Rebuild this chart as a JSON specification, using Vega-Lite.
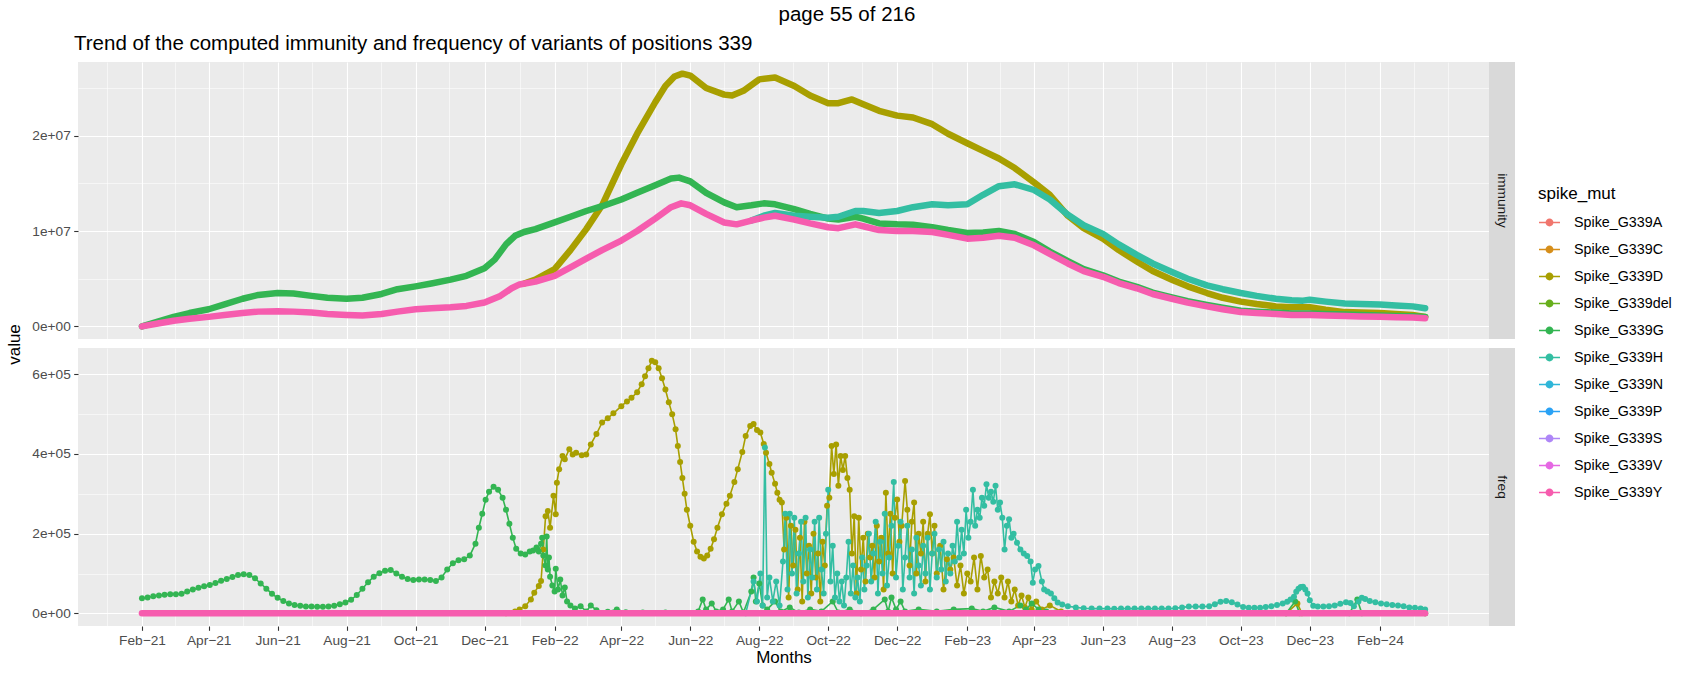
{
"$schema":"https://vega.github.io/schema/vega-lite/v6.json",
"padding":5,
"title":{"text":"page 55 of 216","anchor":"middle","fontSize":20.5,"fontWeight":"normal","color":"#000000","offset":8,"dx":8},
"datasets":{
"imm":[
{"s":"D","d":"2022-01-05","v":4.5e6},{"s":"D","d":"2022-01-15","v":4.9e6},{"s":"D","d":"2022-02-01","v":6.0e6},{"s":"D","d":"2022-02-15","v":8.0e6},{"s":"D","d":"2022-03-01","v":1.02e7},{"s":"D","d":"2022-03-15","v":1.27e7},{"s":"D","d":"2022-04-01","v":1.70e7},{"s":"D","d":"2022-04-15","v":2.02e7},{"s":"D","d":"2022-05-01","v":2.35e7},{"s":"D","d":"2022-05-10","v":2.52e7},{"s":"D","d":"2022-05-18","v":2.62e7},{"s":"D","d":"2022-05-25","v":2.65e7},{"s":"D","d":"2022-06-01","v":2.63e7},{"s":"D","d":"2022-06-15","v":2.50e7},{"s":"D","d":"2022-07-01","v":2.43e7},{"s":"D","d":"2022-07-08","v":2.42e7},{"s":"D","d":"2022-07-18","v":2.47e7},{"s":"D","d":"2022-08-01","v":2.59e7},{"s":"D","d":"2022-08-15","v":2.61e7},{"s":"D","d":"2022-09-01","v":2.52e7},{"s":"D","d":"2022-09-15","v":2.42e7},{"s":"D","d":"2022-10-01","v":2.34e7},{"s":"D","d":"2022-10-10","v":2.34e7},{"s":"D","d":"2022-10-22","v":2.38e7},{"s":"D","d":"2022-11-01","v":2.33e7},{"s":"D","d":"2022-11-15","v":2.26e7},{"s":"D","d":"2022-12-01","v":2.21e7},{"s":"D","d":"2022-12-15","v":2.19e7},{"s":"D","d":"2023-01-01","v":2.12e7},{"s":"D","d":"2023-01-15","v":2.02e7},{"s":"D","d":"2023-02-01","v":1.92e7},{"s":"D","d":"2023-02-15","v":1.84e7},{"s":"D","d":"2023-03-01","v":1.76e7},{"s":"D","d":"2023-03-15","v":1.66e7},{"s":"D","d":"2023-04-01","v":1.51e7},{"s":"D","d":"2023-04-15","v":1.38e7},{"s":"D","d":"2023-05-01","v":1.16e7},{"s":"D","d":"2023-05-15","v":1.03e7},{"s":"D","d":"2023-06-01","v":9.2e6},{"s":"D","d":"2023-06-15","v":8.0e6},{"s":"D","d":"2023-07-01","v":6.8e6},{"s":"D","d":"2023-07-15","v":5.8e6},{"s":"D","d":"2023-08-01","v":4.9e6},{"s":"D","d":"2023-08-15","v":4.2e6},{"s":"D","d":"2023-09-01","v":3.5e6},{"s":"D","d":"2023-09-15","v":3.0e6},{"s":"D","d":"2023-10-01","v":2.6e6},{"s":"D","d":"2023-10-15","v":2.35e6},{"s":"D","d":"2023-11-01","v":2.1e6},{"s":"D","d":"2023-11-15","v":2.0e6},{"s":"D","d":"2023-12-01","v":2.0e6},{"s":"D","d":"2023-12-15","v":1.75e6},{"s":"D","d":"2024-01-01","v":1.5e6},{"s":"D","d":"2024-01-15","v":1.45e6},{"s":"D","d":"2024-02-01","v":1.4e6},{"s":"D","d":"2024-02-15","v":1.3e6},{"s":"D","d":"2024-03-01","v":1.2e6},{"s":"D","d":"2024-03-12","v":1.0e6},
{"s":"G","d":"2021-02-01","v":0},{"s":"G","d":"2021-02-15","v":5e5},{"s":"G","d":"2021-03-01","v":1.0e6},{"s":"G","d":"2021-03-15","v":1.4e6},{"s":"G","d":"2021-04-01","v":1.8e6},{"s":"G","d":"2021-04-15","v":2.3e6},{"s":"G","d":"2021-05-01","v":2.9e6},{"s":"G","d":"2021-05-15","v":3.3e6},{"s":"G","d":"2021-06-01","v":3.5e6},{"s":"G","d":"2021-06-15","v":3.45e6},{"s":"G","d":"2021-07-01","v":3.2e6},{"s":"G","d":"2021-07-15","v":3.0e6},{"s":"G","d":"2021-08-01","v":2.9e6},{"s":"G","d":"2021-08-15","v":3.0e6},{"s":"G","d":"2021-09-01","v":3.4e6},{"s":"G","d":"2021-09-15","v":3.9e6},{"s":"G","d":"2021-10-01","v":4.2e6},{"s":"G","d":"2021-10-15","v":4.5e6},{"s":"G","d":"2021-11-01","v":4.9e6},{"s":"G","d":"2021-11-15","v":5.3e6},{"s":"G","d":"2021-12-01","v":6.1e6},{"s":"G","d":"2021-12-10","v":7.0e6},{"s":"G","d":"2021-12-20","v":8.6e6},{"s":"G","d":"2021-12-28","v":9.5e6},{"s":"G","d":"2022-01-05","v":9.9e6},{"s":"G","d":"2022-01-15","v":1.02e7},{"s":"G","d":"2022-02-01","v":1.09e7},{"s":"G","d":"2022-02-15","v":1.15e7},{"s":"G","d":"2022-03-01","v":1.21e7},{"s":"G","d":"2022-03-15","v":1.26e7},{"s":"G","d":"2022-04-01","v":1.33e7},{"s":"G","d":"2022-04-15","v":1.40e7},{"s":"G","d":"2022-05-01","v":1.48e7},{"s":"G","d":"2022-05-15","v":1.55e7},{"s":"G","d":"2022-05-22","v":1.56e7},{"s":"G","d":"2022-06-01","v":1.52e7},{"s":"G","d":"2022-06-15","v":1.40e7},{"s":"G","d":"2022-07-01","v":1.30e7},{"s":"G","d":"2022-07-12","v":1.25e7},{"s":"G","d":"2022-07-25","v":1.27e7},{"s":"G","d":"2022-08-05","v":1.29e7},{"s":"G","d":"2022-08-15","v":1.28e7},{"s":"G","d":"2022-09-01","v":1.23e7},{"s":"G","d":"2022-09-15","v":1.18e7},{"s":"G","d":"2022-10-01","v":1.13e7},{"s":"G","d":"2022-10-10","v":1.12e7},{"s":"G","d":"2022-10-25","v":1.15e7},{"s":"G","d":"2022-11-01","v":1.13e7},{"s":"G","d":"2022-11-15","v":1.08e7},{"s":"G","d":"2022-12-01","v":1.07e7},{"s":"G","d":"2022-12-15","v":1.065e7},{"s":"G","d":"2023-01-01","v":1.04e7},{"s":"G","d":"2023-01-15","v":1.01e7},{"s":"G","d":"2023-02-01","v":9.8e6},{"s":"G","d":"2023-02-15","v":9.85e6},{"s":"G","d":"2023-03-01","v":1.0e7},{"s":"G","d":"2023-03-15","v":9.7e6},{"s":"G","d":"2023-04-01","v":8.85e6},{"s":"G","d":"2023-04-15","v":7.85e6},{"s":"G","d":"2023-05-01","v":6.85e6},{"s":"G","d":"2023-05-15","v":6.0e6},{"s":"G","d":"2023-06-01","v":5.35e6},{"s":"G","d":"2023-06-15","v":4.7e6},{"s":"G","d":"2023-07-01","v":4.15e6},{"s":"G","d":"2023-07-15","v":3.55e6},{"s":"G","d":"2023-08-01","v":3.05e6},{"s":"G","d":"2023-08-15","v":2.65e6},{"s":"G","d":"2023-09-01","v":2.25e6},{"s":"G","d":"2023-09-15","v":1.95e6},{"s":"G","d":"2023-10-01","v":1.65e6},{"s":"G","d":"2023-10-15","v":1.55e6},{"s":"G","d":"2023-11-01","v":1.45e6},{"s":"G","d":"2023-11-15","v":1.35e6},{"s":"G","d":"2023-12-01","v":1.35e6},{"s":"G","d":"2023-12-15","v":1.3e6},{"s":"G","d":"2024-01-01","v":1.25e6},{"s":"G","d":"2024-01-15","v":1.2e6},{"s":"G","d":"2024-02-01","v":1.15e6},{"s":"G","d":"2024-02-15","v":1.1e6},{"s":"G","d":"2024-03-01","v":1.07e6},{"s":"G","d":"2024-03-12","v":1.0e6},
{"s":"H","d":"2022-07-25","v":1.11e7},{"s":"H","d":"2022-08-05","v":1.16e7},{"s":"H","d":"2022-08-15","v":1.19e7},{"s":"H","d":"2022-09-01","v":1.16e7},{"s":"H","d":"2022-09-15","v":1.15e7},{"s":"H","d":"2022-10-01","v":1.14e7},{"s":"H","d":"2022-10-10","v":1.15e7},{"s":"H","d":"2022-10-25","v":1.21e7},{"s":"H","d":"2022-11-01","v":1.21e7},{"s":"H","d":"2022-11-15","v":1.19e7},{"s":"H","d":"2022-12-01","v":1.21e7},{"s":"H","d":"2022-12-15","v":1.25e7},{"s":"H","d":"2023-01-01","v":1.28e7},{"s":"H","d":"2023-01-15","v":1.27e7},{"s":"H","d":"2023-02-01","v":1.28e7},{"s":"H","d":"2023-02-15","v":1.38e7},{"s":"H","d":"2023-03-01","v":1.47e7},{"s":"H","d":"2023-03-15","v":1.49e7},{"s":"H","d":"2023-04-01","v":1.43e7},{"s":"H","d":"2023-04-15","v":1.33e7},{"s":"H","d":"2023-05-01","v":1.17e7},{"s":"H","d":"2023-05-15","v":1.06e7},{"s":"H","d":"2023-06-01","v":9.7e6},{"s":"H","d":"2023-06-15","v":8.6e6},{"s":"H","d":"2023-07-01","v":7.5e6},{"s":"H","d":"2023-07-15","v":6.6e6},{"s":"H","d":"2023-08-01","v":5.7e6},{"s":"H","d":"2023-08-15","v":5.0e6},{"s":"H","d":"2023-09-01","v":4.3e6},{"s":"H","d":"2023-09-15","v":3.9e6},{"s":"H","d":"2023-10-01","v":3.5e6},{"s":"H","d":"2023-10-15","v":3.2e6},{"s":"H","d":"2023-11-01","v":2.9e6},{"s":"H","d":"2023-11-15","v":2.75e6},{"s":"H","d":"2023-11-25","v":2.7e6},{"s":"H","d":"2023-12-01","v":2.8e6},{"s":"H","d":"2023-12-15","v":2.6e6},{"s":"H","d":"2024-01-01","v":2.4e6},{"s":"H","d":"2024-01-15","v":2.35e6},{"s":"H","d":"2024-02-01","v":2.3e6},{"s":"H","d":"2024-02-15","v":2.2e6},{"s":"H","d":"2024-03-01","v":2.1e6},{"s":"H","d":"2024-03-12","v":1.9e6},
{"s":"Y","d":"2021-02-01","v":0},{"s":"Y","d":"2021-02-15","v":3e5},{"s":"Y","d":"2021-03-01","v":6e5},{"s":"Y","d":"2021-03-15","v":8e5},{"s":"Y","d":"2021-04-01","v":1.0e6},{"s":"Y","d":"2021-04-15","v":1.2e6},{"s":"Y","d":"2021-05-01","v":1.4e6},{"s":"Y","d":"2021-05-15","v":1.55e6},{"s":"Y","d":"2021-06-01","v":1.6e6},{"s":"Y","d":"2021-06-15","v":1.55e6},{"s":"Y","d":"2021-07-01","v":1.45e6},{"s":"Y","d":"2021-07-15","v":1.3e6},{"s":"Y","d":"2021-08-01","v":1.2e6},{"s":"Y","d":"2021-08-15","v":1.15e6},{"s":"Y","d":"2021-09-01","v":1.3e6},{"s":"Y","d":"2021-09-15","v":1.55e6},{"s":"Y","d":"2021-10-01","v":1.8e6},{"s":"Y","d":"2021-10-15","v":1.9e6},{"s":"Y","d":"2021-11-01","v":2.0e6},{"s":"Y","d":"2021-11-15","v":2.15e6},{"s":"Y","d":"2021-12-01","v":2.5e6},{"s":"Y","d":"2021-12-15","v":3.2e6},{"s":"Y","d":"2021-12-25","v":4.0e6},{"s":"Y","d":"2022-01-01","v":4.4e6},{"s":"Y","d":"2022-01-15","v":4.7e6},{"s":"Y","d":"2022-02-01","v":5.3e6},{"s":"Y","d":"2022-02-15","v":6.2e6},{"s":"Y","d":"2022-03-01","v":7.1e6},{"s":"Y","d":"2022-03-15","v":8.0e6},{"s":"Y","d":"2022-04-01","v":9.0e6},{"s":"Y","d":"2022-04-15","v":1.0e7},{"s":"Y","d":"2022-05-01","v":1.13e7},{"s":"Y","d":"2022-05-15","v":1.25e7},{"s":"Y","d":"2022-05-24","v":1.29e7},{"s":"Y","d":"2022-06-01","v":1.27e7},{"s":"Y","d":"2022-06-15","v":1.18e7},{"s":"Y","d":"2022-07-01","v":1.09e7},{"s":"Y","d":"2022-07-12","v":1.07e7},{"s":"Y","d":"2022-07-25","v":1.11e7},{"s":"Y","d":"2022-08-05","v":1.14e7},{"s":"Y","d":"2022-08-15","v":1.16e7},{"s":"Y","d":"2022-09-01","v":1.12e7},{"s":"Y","d":"2022-09-15","v":1.08e7},{"s":"Y","d":"2022-10-01","v":1.04e7},{"s":"Y","d":"2022-10-10","v":1.03e7},{"s":"Y","d":"2022-10-25","v":1.07e7},{"s":"Y","d":"2022-11-01","v":1.05e7},{"s":"Y","d":"2022-11-15","v":1.01e7},{"s":"Y","d":"2022-12-01","v":1.0e7},{"s":"Y","d":"2022-12-15","v":1.0e7},{"s":"Y","d":"2023-01-01","v":9.9e6},{"s":"Y","d":"2023-01-15","v":9.6e6},{"s":"Y","d":"2023-02-01","v":9.2e6},{"s":"Y","d":"2023-02-15","v":9.3e6},{"s":"Y","d":"2023-03-01","v":9.5e6},{"s":"Y","d":"2023-03-15","v":9.3e6},{"s":"Y","d":"2023-04-01","v":8.5e6},{"s":"Y","d":"2023-04-15","v":7.6e6},{"s":"Y","d":"2023-05-01","v":6.6e6},{"s":"Y","d":"2023-05-15","v":5.8e6},{"s":"Y","d":"2023-06-01","v":5.2e6},{"s":"Y","d":"2023-06-15","v":4.55e6},{"s":"Y","d":"2023-07-01","v":4.0e6},{"s":"Y","d":"2023-07-15","v":3.4e6},{"s":"Y","d":"2023-08-01","v":2.9e6},{"s":"Y","d":"2023-08-15","v":2.5e6},{"s":"Y","d":"2023-09-01","v":2.1e6},{"s":"Y","d":"2023-09-15","v":1.8e6},{"s":"Y","d":"2023-10-01","v":1.5e6},{"s":"Y","d":"2023-10-15","v":1.4e6},{"s":"Y","d":"2023-11-01","v":1.3e6},{"s":"Y","d":"2023-11-15","v":1.2e6},{"s":"Y","d":"2023-12-01","v":1.2e6},{"s":"Y","d":"2023-12-15","v":1.15e6},{"s":"Y","d":"2024-01-01","v":1.1e6},{"s":"Y","d":"2024-01-15","v":1.05e6},{"s":"Y","d":"2024-02-01","v":1.0e6},{"s":"Y","d":"2024-02-15","v":9.7e5},{"s":"Y","d":"2024-03-01","v":9.4e5},{"s":"Y","d":"2024-03-12","v":8.5e5}
],
"freq":[
{"s":"D","d":"2021-12-20","v":0},{"s":"D","d":"2021-12-28","v":5e3},{"s":"D","d":"2022-01-01","v":1e4},{"s":"D","d":"2022-01-06","v":1.8e4},{"s":"D","d":"2022-01-11","v":3.5e4},{"s":"D","d":"2022-01-14","v":5.2e4},{"s":"D","d":"2022-01-18","v":6.9e4},{"s":"D","d":"2022-01-20","v":8.1e4},{"s":"D","d":"2022-01-22","v":1.6e5},{"s":"D","d":"2022-01-24","v":2.44e5},{"s":"D","d":"2022-01-26","v":2.57e5},{"s":"D","d":"2022-01-28","v":2.15e5},{"s":"D","d":"2022-01-31","v":2.95e5},{"s":"D","d":"2022-02-02","v":2.49e5},{"s":"D","d":"2022-02-03","v":3.28e5},{"s":"D","d":"2022-02-05","v":3.62e5},{"s":"D","d":"2022-02-08","v":3.95e5},{"s":"D","d":"2022-02-10","v":3.87e5},{"s":"D","d":"2022-02-14","v":4.12e5},{"s":"D","d":"2022-02-17","v":3.99e5},{"s":"D","d":"2022-02-20","v":4.03e5},{"s":"D","d":"2022-02-25","v":3.97e5},{"s":"D","d":"2022-03-01","v":3.99e5},{"s":"D","d":"2022-03-05","v":4.24e5},{"s":"D","d":"2022-03-10","v":4.5e5},{"s":"D","d":"2022-03-15","v":4.79e5},{"s":"D","d":"2022-03-20","v":4.9e5},{"s":"D","d":"2022-03-25","v":5.02e5},{"s":"D","d":"2022-04-01","v":5.2e5},{"s":"D","d":"2022-04-06","v":5.32e5},{"s":"D","d":"2022-04-10","v":5.41e5},{"s":"D","d":"2022-04-15","v":5.55e5},{"s":"D","d":"2022-04-19","v":5.75e5},{"s":"D","d":"2022-04-22","v":5.95e5},{"s":"D","d":"2022-04-25","v":6.15e5},{"s":"D","d":"2022-04-28","v":6.34e5},{"s":"D","d":"2022-05-01","v":6.3e5},{"s":"D","d":"2022-05-04","v":6.15e5},{"s":"D","d":"2022-05-07","v":5.9e5},{"s":"D","d":"2022-05-10","v":5.62e5},{"s":"D","d":"2022-05-13","v":5.3e5},{"s":"D","d":"2022-05-16","v":5.0e5},{"s":"D","d":"2022-05-19","v":4.62e5},{"s":"D","d":"2022-05-21","v":4.2e5},{"s":"D","d":"2022-05-23","v":3.8e5},{"s":"D","d":"2022-05-25","v":3.4e5},{"s":"D","d":"2022-05-27","v":3.0e5},{"s":"D","d":"2022-05-29","v":2.6e5},{"s":"D","d":"2022-06-01","v":2.2e5},{"s":"D","d":"2022-06-04","v":1.8e5},{"s":"D","d":"2022-06-07","v":1.55e5},{"s":"D","d":"2022-06-10","v":1.42e5},{"s":"D","d":"2022-06-13","v":1.38e5},{"s":"D","d":"2022-06-16","v":1.45e5},{"s":"D","d":"2022-06-19","v":1.62e5},{"s":"D","d":"2022-06-22","v":1.86e5},{"s":"D","d":"2022-06-25","v":2.15e5},{"s":"D","d":"2022-06-29","v":2.49e5},{"s":"D","d":"2022-07-03","v":2.75e5},{"s":"D","d":"2022-07-06","v":2.95e5},{"s":"D","d":"2022-07-10","v":3.3e5},{"s":"D","d":"2022-07-13","v":3.62e5},{"s":"D","d":"2022-07-17","v":4.05e5},{"s":"D","d":"2022-07-20","v":4.45e5},{"s":"D","d":"2022-07-24","v":4.7e5},{"s":"D","d":"2022-07-27","v":4.75e5},{"s":"D","d":"2022-07-30","v":4.6e5},{"s":"D","d":"2022-08-02","v":4.54e5},{"s":"D","d":"2022-08-05","v":4.25e5},{"s":"D","d":"2022-08-07","v":4.03e5},{"s":"D","d":"2022-08-10","v":3.75e5},{"s":"D","d":"2022-08-12","v":3.53e5},{"s":"D","d":"2022-08-15","v":3.25e5},{"s":"D","d":"2022-08-17","v":3.03e5},{"s":"D","d":"2022-08-19","v":2.85e5},{"s":"D","d":"2022-08-21","v":2.78e5},{"s":"D","d":"2022-08-23","v":1.6e5},{"s":"D","d":"2022-08-25","v":2.4e5},{"s":"D","d":"2022-08-27","v":4e4},{"s":"D","d":"2022-08-29","v":2.2e5},{"s":"D","d":"2022-08-31","v":1.2e5},{"s":"D","d":"2022-09-02","v":2.1e5},{"s":"D","d":"2022-09-04","v":6e4},{"s":"D","d":"2022-09-06","v":1.9e5},{"s":"D","d":"2022-09-08","v":3e4},{"s":"D","d":"2022-09-10","v":2.3e5},{"s":"D","d":"2022-09-12","v":1e5},{"s":"D","d":"2022-09-14","v":1.7e5},{"s":"D","d":"2022-09-16","v":5e4},{"s":"D","d":"2022-09-18","v":2e5},{"s":"D","d":"2022-09-20","v":9e4},{"s":"D","d":"2022-09-22","v":1.5e5},{"s":"D","d":"2022-09-24","v":3e4},{"s":"D","d":"2022-09-26","v":1.8e5},{"s":"D","d":"2022-09-28","v":1.2e5},{"s":"D","d":"2022-09-30","v":2.7e5},{"s":"D","d":"2022-10-02","v":2.9e5},{"s":"D","d":"2022-10-04","v":4.2e5},{"s":"D","d":"2022-10-06","v":3.5e5},{"s":"D","d":"2022-10-08","v":4.24e5},{"s":"D","d":"2022-10-10","v":3.2e5},{"s":"D","d":"2022-10-12","v":3.95e5},{"s":"D","d":"2022-10-14","v":3.6e5},{"s":"D","d":"2022-10-16","v":3.95e5},{"s":"D","d":"2022-10-18","v":3.4e5},{"s":"D","d":"2022-10-20","v":3.1e5},{"s":"D","d":"2022-10-22","v":1.5e5},{"s":"D","d":"2022-10-24","v":2.44e5},{"s":"D","d":"2022-10-26","v":5e4},{"s":"D","d":"2022-10-28","v":2.4e5},{"s":"D","d":"2022-10-30","v":1.1e5},{"s":"D","d":"2022-11-01","v":1.9e5},{"s":"D","d":"2022-11-03","v":8e4},{"s":"D","d":"2022-11-05","v":2e5},{"s":"D","d":"2022-11-07","v":1.4e5},{"s":"D","d":"2022-11-09","v":1.7e5},{"s":"D","d":"2022-11-11","v":9e4},{"s":"D","d":"2022-11-13","v":2.2e5},{"s":"D","d":"2022-11-15","v":1.3e5},{"s":"D","d":"2022-11-17","v":1.9e5},{"s":"D","d":"2022-11-19","v":6e4},{"s":"D","d":"2022-11-21","v":3.03e5},{"s":"D","d":"2022-11-23","v":1.5e5},{"s":"D","d":"2022-11-25","v":2.5e5},{"s":"D","d":"2022-11-27","v":1e5},{"s":"D","d":"2022-11-29","v":2.4e5},{"s":"D","d":"2022-12-01","v":2.86e5},{"s":"D","d":"2022-12-03","v":1.8e5},{"s":"D","d":"2022-12-05","v":2.2e5},{"s":"D","d":"2022-12-08","v":3.32e5},{"s":"D","d":"2022-12-10","v":2.6e5},{"s":"D","d":"2022-12-12","v":1.2e5},{"s":"D","d":"2022-12-14","v":2.3e5},{"s":"D","d":"2022-12-16","v":2.78e5},{"s":"D","d":"2022-12-18","v":1e5},{"s":"D","d":"2022-12-20","v":2e5},{"s":"D","d":"2022-12-22","v":1.5e5},{"s":"D","d":"2022-12-24","v":2.3e5},{"s":"D","d":"2022-12-26","v":8e4},{"s":"D","d":"2022-12-28","v":2e5},{"s":"D","d":"2022-12-30","v":2.49e5},{"s":"D","d":"2023-01-01","v":1.5e5},{"s":"D","d":"2023-01-03","v":2.2e5},{"s":"D","d":"2023-01-05","v":1e5},{"s":"D","d":"2023-01-08","v":1.7e5},{"s":"D","d":"2023-01-11","v":6e4},{"s":"D","d":"2023-01-14","v":1.36e5},{"s":"D","d":"2023-01-17","v":1.1e5},{"s":"D","d":"2023-01-20","v":1.4e5},{"s":"D","d":"2023-01-23","v":7e4},{"s":"D","d":"2023-01-26","v":1.2e5},{"s":"D","d":"2023-01-29","v":5e4},{"s":"D","d":"2023-02-01","v":1e5},{"s":"D","d":"2023-02-04","v":8e4},{"s":"D","d":"2023-02-07","v":1.4e5},{"s":"D","d":"2023-02-10","v":6e4},{"s":"D","d":"2023-02-13","v":1.44e5},{"s":"D","d":"2023-02-16","v":9e4},{"s":"D","d":"2023-02-19","v":1.1e5},{"s":"D","d":"2023-02-22","v":4e4},{"s":"D","d":"2023-02-25","v":8e4},{"s":"D","d":"2023-02-28","v":5e4},{"s":"D","d":"2023-03-03","v":9e4},{"s":"D","d":"2023-03-06","v":4e4},{"s":"D","d":"2023-03-09","v":8e4},{"s":"D","d":"2023-03-12","v":3e4},{"s":"D","d":"2023-03-15","v":6e4},{"s":"D","d":"2023-03-18","v":2e4},{"s":"D","d":"2023-03-21","v":4.5e4},{"s":"D","d":"2023-03-24","v":1.5e4},{"s":"D","d":"2023-03-27","v":4e4},{"s":"D","d":"2023-03-30","v":1e4},{"s":"D","d":"2023-04-03","v":3e4},{"s":"D","d":"2023-04-08","v":1e4},{"s":"D","d":"2023-04-15","v":2e4},{"s":"D","d":"2023-04-25","v":5e3},{"s":"D","d":"2023-05-10","v":2e3},{"s":"D","d":"2023-05-30","v":0},{"s":"D","d":"2023-11-10","v":0},{"s":"D","d":"2023-11-20","v":2.5e4},{"s":"D","d":"2023-11-24","v":0},{"s":"D","d":"2024-03-12","v":0},
{"s":"G","d":"2021-02-01","v":3.8e4},{"s":"G","d":"2021-02-06","v":4.0e4},{"s":"G","d":"2021-02-11","v":4.3e4},{"s":"G","d":"2021-02-16","v":4.5e4},{"s":"G","d":"2021-02-21","v":4.7e4},{"s":"G","d":"2021-02-26","v":4.8e4},{"s":"G","d":"2021-03-03","v":4.8e4},{"s":"G","d":"2021-03-08","v":4.9e4},{"s":"G","d":"2021-03-13","v":5.5e4},{"s":"G","d":"2021-03-18","v":6.0e4},{"s":"G","d":"2021-03-23","v":6.4e4},{"s":"G","d":"2021-03-28","v":6.8e4},{"s":"G","d":"2021-04-02","v":7.1e4},{"s":"G","d":"2021-04-07","v":7.6e4},{"s":"G","d":"2021-04-12","v":8.2e4},{"s":"G","d":"2021-04-17","v":8.6e4},{"s":"G","d":"2021-04-22","v":9.1e4},{"s":"G","d":"2021-04-27","v":9.6e4},{"s":"G","d":"2021-05-02","v":9.8e4},{"s":"G","d":"2021-05-07","v":9.6e4},{"s":"G","d":"2021-05-12","v":8.8e4},{"s":"G","d":"2021-05-17","v":7.5e4},{"s":"G","d":"2021-05-22","v":6.2e4},{"s":"G","d":"2021-05-27","v":4.9e4},{"s":"G","d":"2021-06-01","v":3.9e4},{"s":"G","d":"2021-06-06","v":3.1e4},{"s":"G","d":"2021-06-11","v":2.5e4},{"s":"G","d":"2021-06-16","v":2.1e4},{"s":"G","d":"2021-06-21","v":1.9e4},{"s":"G","d":"2021-06-26","v":1.7e4},{"s":"G","d":"2021-07-01","v":1.7e4},{"s":"G","d":"2021-07-06","v":1.65e4},{"s":"G","d":"2021-07-11","v":1.65e4},{"s":"G","d":"2021-07-16","v":1.7e4},{"s":"G","d":"2021-07-21","v":1.9e4},{"s":"G","d":"2021-07-26","v":2.3e4},{"s":"G","d":"2021-07-31","v":2.7e4},{"s":"G","d":"2021-08-05","v":3.4e4},{"s":"G","d":"2021-08-10","v":4.6e4},{"s":"G","d":"2021-08-15","v":6.2e4},{"s":"G","d":"2021-08-20","v":7.8e4},{"s":"G","d":"2021-08-25","v":9.2e4},{"s":"G","d":"2021-08-30","v":1.01e5},{"s":"G","d":"2021-09-04","v":1.07e5},{"s":"G","d":"2021-09-09","v":1.09e5},{"s":"G","d":"2021-09-14","v":1.0e5},{"s":"G","d":"2021-09-19","v":9.2e4},{"s":"G","d":"2021-09-24","v":8.6e4},{"s":"G","d":"2021-09-29","v":8.4e4},{"s":"G","d":"2021-10-04","v":8.5e4},{"s":"G","d":"2021-10-09","v":8.5e4},{"s":"G","d":"2021-10-14","v":8.4e4},{"s":"G","d":"2021-10-19","v":8.1e4},{"s":"G","d":"2021-10-24","v":9.0e4},{"s":"G","d":"2021-10-29","v":1.1e5},{"s":"G","d":"2021-11-03","v":1.26e5},{"s":"G","d":"2021-11-08","v":1.33e5},{"s":"G","d":"2021-11-13","v":1.36e5},{"s":"G","d":"2021-11-18","v":1.45e5},{"s":"G","d":"2021-11-23","v":1.75e5},{"s":"G","d":"2021-11-26","v":2.15e5},{"s":"G","d":"2021-11-29","v":2.5e5},{"s":"G","d":"2021-12-02","v":2.85e5},{"s":"G","d":"2021-12-05","v":3.05e5},{"s":"G","d":"2021-12-09","v":3.18e5},{"s":"G","d":"2021-12-13","v":3.1e5},{"s":"G","d":"2021-12-17","v":2.9e5},{"s":"G","d":"2021-12-20","v":2.6e5},{"s":"G","d":"2021-12-23","v":2.25e5},{"s":"G","d":"2021-12-26","v":1.9e5},{"s":"G","d":"2021-12-29","v":1.62e5},{"s":"G","d":"2022-01-02","v":1.5e5},{"s":"G","d":"2022-01-06","v":1.48e5},{"s":"G","d":"2022-01-10","v":1.55e5},{"s":"G","d":"2022-01-13","v":1.58e5},{"s":"G","d":"2022-01-16","v":1.65e5},{"s":"G","d":"2022-01-18","v":1.55e5},{"s":"G","d":"2022-01-20","v":1.75e5},{"s":"G","d":"2022-01-21","v":1.9e5},{"s":"G","d":"2022-01-22","v":1.45e5},{"s":"G","d":"2022-01-24","v":1.2e5},{"s":"G","d":"2022-01-25","v":1.93e5},{"s":"G","d":"2022-01-26","v":1.1e5},{"s":"G","d":"2022-01-27","v":1.4e5},{"s":"G","d":"2022-01-28","v":9.2e4},{"s":"G","d":"2022-01-30","v":7e4},{"s":"G","d":"2022-02-01","v":5.5e4},{"s":"G","d":"2022-02-02","v":1.12e5},{"s":"G","d":"2022-02-04","v":6e4},{"s":"G","d":"2022-02-06","v":8.5e4},{"s":"G","d":"2022-02-08","v":4.5e4},{"s":"G","d":"2022-02-10","v":6.5e4},{"s":"G","d":"2022-02-12","v":3e4},{"s":"G","d":"2022-02-15","v":2e4},{"s":"G","d":"2022-02-19","v":1.2e4},{"s":"G","d":"2022-02-24","v":1.8e4},{"s":"G","d":"2022-03-01","v":5e3},{"s":"G","d":"2022-03-05","v":2e4},{"s":"G","d":"2022-03-10","v":8e3},{"s":"G","d":"2022-03-20","v":4e3},{"s":"G","d":"2022-03-28","v":1e4},{"s":"G","d":"2022-04-05","v":3e3},{"s":"G","d":"2022-04-20","v":2e3},{"s":"G","d":"2022-05-10","v":2e3},{"s":"G","d":"2022-05-25","v":1e3},{"s":"G","d":"2022-06-08","v":5e3},{"s":"G","d":"2022-06-12","v":3.5e4},{"s":"G","d":"2022-06-15","v":1e4},{"s":"G","d":"2022-06-20","v":2.5e4},{"s":"G","d":"2022-06-24","v":5e3},{"s":"G","d":"2022-06-30","v":1e4},{"s":"G","d":"2022-07-05","v":3.5e4},{"s":"G","d":"2022-07-08","v":5e3},{"s":"G","d":"2022-07-14","v":3e4},{"s":"G","d":"2022-07-18","v":2e3},{"s":"G","d":"2022-07-25","v":5.5e4},{"s":"G","d":"2022-07-27","v":9e4},{"s":"G","d":"2022-07-29","v":3e4},{"s":"G","d":"2022-08-01","v":7.5e4},{"s":"G","d":"2022-08-04","v":2e4},{"s":"G","d":"2022-08-08","v":1e4},{"s":"G","d":"2022-08-15","v":3e4},{"s":"G","d":"2022-08-20","v":5e3},{"s":"G","d":"2022-08-28","v":1.5e4},{"s":"G","d":"2022-09-05","v":2e3},{"s":"G","d":"2022-09-15","v":1e4},{"s":"G","d":"2022-09-25","v":5e3},{"s":"G","d":"2022-10-05","v":3e4},{"s":"G","d":"2022-10-10","v":2e3},{"s":"G","d":"2022-10-20","v":1e4},{"s":"G","d":"2022-10-30","v":0},{"s":"G","d":"2022-11-10","v":1e4},{"s":"G","d":"2022-11-20","v":3.5e4},{"s":"G","d":"2022-11-23","v":5e3},{"s":"G","d":"2022-11-26","v":4e4},{"s":"G","d":"2022-11-30","v":1e4},{"s":"G","d":"2022-12-04","v":3e4},{"s":"G","d":"2022-12-08","v":5e3},{"s":"G","d":"2022-12-20","v":1e4},{"s":"G","d":"2023-01-05","v":5e3},{"s":"G","d":"2023-01-20","v":1e4},{"s":"G","d":"2023-02-05","v":1.2e4},{"s":"G","d":"2023-02-15","v":5e3},{"s":"G","d":"2023-02-25","v":1.5e4},{"s":"G","d":"2023-03-10","v":5e3},{"s":"G","d":"2023-03-20","v":2e4},{"s":"G","d":"2023-03-25","v":1e4},{"s":"G","d":"2023-03-30","v":2.5e4},{"s":"G","d":"2023-04-05","v":1e4},{"s":"G","d":"2023-04-12","v":5e3},{"s":"G","d":"2023-04-20","v":2e3},{"s":"G","d":"2023-04-30","v":0},{"s":"G","d":"2023-11-10","v":0},{"s":"G","d":"2023-11-18","v":3e4},{"s":"G","d":"2023-11-22","v":0},{"s":"G","d":"2024-01-05","v":0},{"s":"G","d":"2024-01-12","v":3.5e4},{"s":"G","d":"2024-01-16","v":0},{"s":"G","d":"2024-03-12","v":0},
{"s":"H","d":"2022-07-20","v":0},{"s":"H","d":"2022-07-27","v":8e4},{"s":"H","d":"2022-07-30","v":3e4},{"s":"H","d":"2022-08-02","v":1e5},{"s":"H","d":"2022-08-04","v":2e4},{"s":"H","d":"2022-08-06","v":4.16e5},{"s":"H","d":"2022-08-08","v":4e4},{"s":"H","d":"2022-08-10","v":9e4},{"s":"H","d":"2022-08-13","v":3e4},{"s":"H","d":"2022-08-16","v":8e4},{"s":"H","d":"2022-08-19","v":2e4},{"s":"H","d":"2022-08-22","v":1.3e5},{"s":"H","d":"2022-08-24","v":2.5e5},{"s":"H","d":"2022-08-26","v":6e4},{"s":"H","d":"2022-08-28","v":2.5e5},{"s":"H","d":"2022-08-30","v":1e5},{"s":"H","d":"2022-09-01","v":2.4e5},{"s":"H","d":"2022-09-03","v":5e4},{"s":"H","d":"2022-09-05","v":1.5e5},{"s":"H","d":"2022-09-07","v":2.3e5},{"s":"H","d":"2022-09-09","v":8e4},{"s":"H","d":"2022-09-11","v":2.4e5},{"s":"H","d":"2022-09-13","v":4e4},{"s":"H","d":"2022-09-15","v":1.6e5},{"s":"H","d":"2022-09-17","v":9e4},{"s":"H","d":"2022-09-19","v":2.3e5},{"s":"H","d":"2022-09-21","v":6e4},{"s":"H","d":"2022-09-23","v":2.4e5},{"s":"H","d":"2022-09-25","v":1.1e5},{"s":"H","d":"2022-09-27","v":5e4},{"s":"H","d":"2022-09-29","v":2e5},{"s":"H","d":"2022-10-01","v":3.1e5},{"s":"H","d":"2022-10-03","v":8e4},{"s":"H","d":"2022-10-05","v":1.7e5},{"s":"H","d":"2022-10-07","v":4e4},{"s":"H","d":"2022-10-09","v":1e5},{"s":"H","d":"2022-10-11","v":3e4},{"s":"H","d":"2022-10-13","v":8e4},{"s":"H","d":"2022-10-15","v":2e4},{"s":"H","d":"2022-10-17","v":9e4},{"s":"H","d":"2022-10-19","v":1.8e5},{"s":"H","d":"2022-10-21","v":5e4},{"s":"H","d":"2022-10-23","v":1.2e5},{"s":"H","d":"2022-10-25","v":4e4},{"s":"H","d":"2022-10-27","v":9e4},{"s":"H","d":"2022-10-29","v":3e4},{"s":"H","d":"2022-10-31","v":1.4e5},{"s":"H","d":"2022-11-02","v":6e4},{"s":"H","d":"2022-11-04","v":1.2e5},{"s":"H","d":"2022-11-06","v":2e5},{"s":"H","d":"2022-11-08","v":8e4},{"s":"H","d":"2022-11-10","v":1.5e5},{"s":"H","d":"2022-11-12","v":2.3e5},{"s":"H","d":"2022-11-14","v":5e4},{"s":"H","d":"2022-11-16","v":1.8e5},{"s":"H","d":"2022-11-18","v":1e5},{"s":"H","d":"2022-11-20","v":2.5e5},{"s":"H","d":"2022-11-22","v":7e4},{"s":"H","d":"2022-11-24","v":1.4e5},{"s":"H","d":"2022-11-26","v":2.2e5},{"s":"H","d":"2022-11-28","v":3.3e5},{"s":"H","d":"2022-11-30","v":9e4},{"s":"H","d":"2022-12-02","v":1.7e5},{"s":"H","d":"2022-12-04","v":2.3e5},{"s":"H","d":"2022-12-06","v":6e4},{"s":"H","d":"2022-12-08","v":1.4e5},{"s":"H","d":"2022-12-10","v":2.2e5},{"s":"H","d":"2022-12-12","v":9e4},{"s":"H","d":"2022-12-14","v":1.6e5},{"s":"H","d":"2022-12-16","v":5e4},{"s":"H","d":"2022-12-18","v":1.9e5},{"s":"H","d":"2022-12-20","v":1.2e5},{"s":"H","d":"2022-12-22","v":7e4},{"s":"H","d":"2022-12-24","v":1.7e5},{"s":"H","d":"2022-12-26","v":1e5},{"s":"H","d":"2022-12-28","v":1.9e5},{"s":"H","d":"2022-12-30","v":6e4},{"s":"H","d":"2023-01-01","v":1.5e5},{"s":"H","d":"2023-01-03","v":2e5},{"s":"H","d":"2023-01-05","v":9e4},{"s":"H","d":"2023-01-07","v":1.6e5},{"s":"H","d":"2023-01-09","v":1.1e5},{"s":"H","d":"2023-01-11","v":1.8e5},{"s":"H","d":"2023-01-13","v":8e4},{"s":"H","d":"2023-01-15","v":1.5e5},{"s":"H","d":"2023-01-17","v":1e5},{"s":"H","d":"2023-01-19","v":1.7e5},{"s":"H","d":"2023-01-21","v":1.3e5},{"s":"H","d":"2023-01-23","v":2.3e5},{"s":"H","d":"2023-01-25","v":1.4e5},{"s":"H","d":"2023-01-27","v":2.1e5},{"s":"H","d":"2023-01-29","v":1.5e5},{"s":"H","d":"2023-01-31","v":2.6e5},{"s":"H","d":"2023-02-02","v":1.9e5},{"s":"H","d":"2023-02-04","v":2.3e5},{"s":"H","d":"2023-02-06","v":3.1e5},{"s":"H","d":"2023-02-08","v":2.2e5},{"s":"H","d":"2023-02-10","v":2.6e5},{"s":"H","d":"2023-02-12","v":2.4e5},{"s":"H","d":"2023-02-14","v":2.9e5},{"s":"H","d":"2023-02-16","v":2.7e5},{"s":"H","d":"2023-02-18","v":3.24e5},{"s":"H","d":"2023-02-20","v":2.9e5},{"s":"H","d":"2023-02-22","v":3.05e5},{"s":"H","d":"2023-02-24","v":2.8e5},{"s":"H","d":"2023-02-26","v":3.2e5},{"s":"H","d":"2023-02-28","v":2.6e5},{"s":"H","d":"2023-03-02","v":2.78e5},{"s":"H","d":"2023-03-04","v":2.4e5},{"s":"H","d":"2023-03-06","v":1.6e5},{"s":"H","d":"2023-03-08","v":2.2e5},{"s":"H","d":"2023-03-10","v":2.36e5},{"s":"H","d":"2023-03-12","v":1.9e5},{"s":"H","d":"2023-03-14","v":2.0e5},{"s":"H","d":"2023-03-17","v":1.77e5},{"s":"H","d":"2023-03-20","v":1.6e5},{"s":"H","d":"2023-03-23","v":1.5e5},{"s":"H","d":"2023-03-26","v":1.44e5},{"s":"H","d":"2023-03-29","v":1.3e5},{"s":"H","d":"2023-03-31","v":7.7e4},{"s":"H","d":"2023-04-02","v":1.1e5},{"s":"H","d":"2023-04-05","v":1.19e5},{"s":"H","d":"2023-04-08","v":8e4},{"s":"H","d":"2023-04-10","v":6e4},{"s":"H","d":"2023-04-13","v":5.5e4},{"s":"H","d":"2023-04-16","v":5e4},{"s":"H","d":"2023-04-19","v":3.8e4},{"s":"H","d":"2023-04-22","v":2.7e4},{"s":"H","d":"2023-04-26","v":2.2e4},{"s":"H","d":"2023-05-01","v":1.8e4},{"s":"H","d":"2023-05-08","v":1.5e4},{"s":"H","d":"2023-05-15","v":1.3e4},{"s":"H","d":"2023-05-22","v":1.2e4},{"s":"H","d":"2023-05-29","v":1.2e4},{"s":"H","d":"2023-06-05","v":1.2e4},{"s":"H","d":"2023-06-11","v":1.15e4},{"s":"H","d":"2023-06-17","v":1.2e4},{"s":"H","d":"2023-06-23","v":1.2e4},{"s":"H","d":"2023-06-29","v":1.2e4},{"s":"H","d":"2023-07-05","v":1.2e4},{"s":"H","d":"2023-07-11","v":1.2e4},{"s":"H","d":"2023-07-17","v":1.2e4},{"s":"H","d":"2023-07-23","v":1.2e4},{"s":"H","d":"2023-07-29","v":1.2e4},{"s":"H","d":"2023-08-04","v":1.3e4},{"s":"H","d":"2023-08-10","v":1.5e4},{"s":"H","d":"2023-08-16","v":1.7e4},{"s":"H","d":"2023-08-22","v":1.7e4},{"s":"H","d":"2023-08-28","v":1.7e4},{"s":"H","d":"2023-09-03","v":1.8e4},{"s":"H","d":"2023-09-08","v":2.3e4},{"s":"H","d":"2023-09-13","v":2.9e4},{"s":"H","d":"2023-09-18","v":3.1e4},{"s":"H","d":"2023-09-23","v":2.8e4},{"s":"H","d":"2023-09-28","v":2.2e4},{"s":"H","d":"2023-10-03","v":1.6e4},{"s":"H","d":"2023-10-08","v":1.4e4},{"s":"H","d":"2023-10-13","v":1.4e4},{"s":"H","d":"2023-10-18","v":1.4e4},{"s":"H","d":"2023-10-23","v":1.6e4},{"s":"H","d":"2023-10-28","v":1.8e4},{"s":"H","d":"2023-11-02","v":2.1e4},{"s":"H","d":"2023-11-07","v":2.5e4},{"s":"H","d":"2023-11-11","v":2.9e4},{"s":"H","d":"2023-11-14","v":3.5e4},{"s":"H","d":"2023-11-17","v":4.2e4},{"s":"H","d":"2023-11-19","v":5.4e4},{"s":"H","d":"2023-11-21","v":6.2e4},{"s":"H","d":"2023-11-23","v":6.6e4},{"s":"H","d":"2023-11-25","v":6.7e4},{"s":"H","d":"2023-11-27","v":6.0e4},{"s":"H","d":"2023-11-29","v":5.0e4},{"s":"H","d":"2023-12-01","v":3.3e4},{"s":"H","d":"2023-12-04","v":1.9e4},{"s":"H","d":"2023-12-08","v":1.7e4},{"s":"H","d":"2023-12-13","v":1.7e4},{"s":"H","d":"2023-12-18","v":1.8e4},{"s":"H","d":"2023-12-23","v":2.0e4},{"s":"H","d":"2023-12-28","v":2.4e4},{"s":"H","d":"2024-01-02","v":2.8e4},{"s":"H","d":"2024-01-06","v":2.6e4},{"s":"H","d":"2024-01-09","v":1.8e4},{"s":"H","d":"2024-01-13","v":3.0e4},{"s":"H","d":"2024-01-16","v":3.9e4},{"s":"H","d":"2024-01-19","v":3.6e4},{"s":"H","d":"2024-01-23","v":3.1e4},{"s":"H","d":"2024-01-28","v":2.8e4},{"s":"H","d":"2024-02-02","v":2.5e4},{"s":"H","d":"2024-02-07","v":2.3e4},{"s":"H","d":"2024-02-12","v":2.1e4},{"s":"H","d":"2024-02-17","v":2.0e4},{"s":"H","d":"2024-02-22","v":1.8e4},{"s":"H","d":"2024-02-27","v":1.5e4},{"s":"H","d":"2024-03-03","v":1.4e4},{"s":"H","d":"2024-03-08","v":1.2e4},{"s":"H","d":"2024-03-12","v":1.0e4},
{"s":"Y","d":"2021-02-01","v":0},{"s":"Y","d":"2021-08-01","v":0},{"s":"Y","d":"2022-02-01","v":0},{"s":"Y","d":"2022-08-01","v":0},{"s":"Y","d":"2023-02-01","v":0},{"s":"Y","d":"2023-08-01","v":0},{"s":"Y","d":"2024-03-12","v":0}
]
},
"concat":[
{"width":1411,"height":277,
 "title":{"text":"Trend of the computed immunity and frequency of variants of positions 339","anchor":"start","frame":"group","fontSize":20.5,"fontWeight":"normal","color":"#000000","offset":8,"dx":-4},
 "data":{"name":"imm"},
 "layer":[
  {"mark":{"type":"point","opacity":0},
   "encoding":{
    "x":{"field":"d","type":"temporal","scale":{"type":"utc","nice":false,"domain":[{"year":2020,"month":12,"date":6,"hours":10,"utc":true},{"year":2024,"month":5,"date":7,"hours":12,"utc":true}]},
     "axis":{"orient":"top","grid":true,"gridWidth":0.55,"labels":false,"ticks":false,"title":null,"values":[{"year":2021,"month":1,"date":1,"utc":true},{"year":2021,"month":3,"date":2,"utc":true},{"year":2021,"month":5,"date":1,"utc":true},{"year":2021,"month":7,"date":1,"utc":true},{"year":2021,"month":8,"date":31,"utc":true},{"year":2021,"month":10,"date":31,"utc":true},{"year":2022,"month":1,"date":1,"utc":true},{"year":2022,"month":3,"date":2,"utc":true},{"year":2022,"month":5,"date":1,"utc":true},{"year":2022,"month":7,"date":1,"utc":true},{"year":2022,"month":8,"date":31,"utc":true},{"year":2022,"month":10,"date":31,"utc":true},{"year":2023,"month":1,"date":1,"utc":true},{"year":2023,"month":3,"date":2,"utc":true},{"year":2023,"month":5,"date":1,"utc":true},{"year":2023,"month":7,"date":1,"utc":true},{"year":2023,"month":8,"date":31,"utc":true},{"year":2023,"month":10,"date":31,"utc":true},{"year":2024,"month":1,"date":1,"utc":true},{"year":2024,"month":3,"date":2,"utc":true},{"year":2024,"month":4,"date":1,"utc":true}]}},
    "y":{"field":"v","type":"quantitative","scale":{"domain":[-1320000,27720000],"nice":false,"zero":false},
     "axis":{"orient":"right","grid":true,"gridWidth":0.55,"labels":false,"ticks":false,"title":null,"values":[5000000,15000000,25000000]}}}},
  {"mark":{"type":"line","strokeWidth":6.5,"strokeCap":"round","strokeJoin":"round"},
   "encoding":{
    "x":{"field":"d","type":"temporal","scale":{"type":"utc","nice":false,"domain":[{"year":2020,"month":12,"date":6,"hours":10,"utc":true},{"year":2024,"month":5,"date":7,"hours":12,"utc":true}]},
     "axis":{"grid":true,"labels":false,"ticks":false,"title":null,"values":[{"year":2021,"month":2,"date":1,"utc":true},{"year":2021,"month":4,"date":1,"utc":true},{"year":2021,"month":6,"date":1,"utc":true},{"year":2021,"month":8,"date":1,"utc":true},{"year":2021,"month":10,"date":1,"utc":true},{"year":2021,"month":12,"date":1,"utc":true},{"year":2022,"month":2,"date":1,"utc":true},{"year":2022,"month":4,"date":1,"utc":true},{"year":2022,"month":6,"date":1,"utc":true},{"year":2022,"month":8,"date":1,"utc":true},{"year":2022,"month":10,"date":1,"utc":true},{"year":2022,"month":12,"date":1,"utc":true},{"year":2023,"month":2,"date":1,"utc":true},{"year":2023,"month":4,"date":1,"utc":true},{"year":2023,"month":6,"date":1,"utc":true},{"year":2023,"month":8,"date":1,"utc":true},{"year":2023,"month":10,"date":1,"utc":true},{"year":2023,"month":12,"date":1,"utc":true},{"year":2024,"month":2,"date":1,"utc":true}]}},
    "y":{"field":"v","type":"quantitative","scale":{"domain":[-1320000,27720000],"nice":false,"zero":false},
     "axis":{"grid":true,"values":[0,10000000,20000000],"labelExpr":"datum.value == 0 ? '0e+00' : format(datum.value / 1e7, 'd') + 'e+07'","title":"value","titleY":282,"titlePadding":8}},
    "color":{"field":"s","type":"nominal","scale":{"domain":["A","C","D","del","G","H","N","P","S","V","Y"],"range":["#F0766D","#D68E1A","#A89F00","#67AF1C","#33B552","#33BEA2","#2FB6D8","#2AA2F5","#AE86F7","#E568E3","#F65CAE"]},
     "legend":{"title":"spike_mut","orient":"none","legendX":1460,"legendY":124,"titleFontSize":17,"titleFontWeight":"normal","titleColor":"#000000","titlePadding":8,"labelFontSize":14.3,"labelColor":"#000000","labelExpr":"'Spike_G339' + datum.label","symbolType":"M-1,0L1,0M-0.3,0A0.3,0.3 0 1,0 0.3,0A0.3,0.3 0 1,0 -0.3,0","symbolSize":441,"symbolStrokeWidth":1.6,"symbolOpacity":1,"rowPadding":8,"labelOffset":13,"encode":{"symbols":{"update":{"fill":{"scale":"color","field":"value"},"stroke":{"scale":"color","field":"value"}}}}}}}}
 ],
 "resolve":{"axis":{"x":"independent","y":"independent"}}
},
{"width":26,"height":277,"view":{"fill":"#D9D9D9","stroke":null},"data":{"values":[{"lab":"immunity"}]},"mark":{"type":"text","angle":90,"fontSize":13.7,"color":"#1A1A1A"},"encoding":{"text":{"field":"lab","type":"nominal"}}},
{"width":1411,"height":278,
 "data":{"name":"freq"},
 "layer":[
  {"mark":{"type":"point","opacity":0},
   "encoding":{
    "x":{"field":"d","type":"temporal","scale":{"type":"utc","nice":false,"domain":[{"year":2020,"month":12,"date":6,"hours":10,"utc":true},{"year":2024,"month":5,"date":7,"hours":12,"utc":true}]},
     "axis":{"orient":"top","grid":true,"gridWidth":0.55,"labels":false,"ticks":false,"title":null,"values":[{"year":2021,"month":1,"date":1,"utc":true},{"year":2021,"month":3,"date":2,"utc":true},{"year":2021,"month":5,"date":1,"utc":true},{"year":2021,"month":7,"date":1,"utc":true},{"year":2021,"month":8,"date":31,"utc":true},{"year":2021,"month":10,"date":31,"utc":true},{"year":2022,"month":1,"date":1,"utc":true},{"year":2022,"month":3,"date":2,"utc":true},{"year":2022,"month":5,"date":1,"utc":true},{"year":2022,"month":7,"date":1,"utc":true},{"year":2022,"month":8,"date":31,"utc":true},{"year":2022,"month":10,"date":31,"utc":true},{"year":2023,"month":1,"date":1,"utc":true},{"year":2023,"month":3,"date":2,"utc":true},{"year":2023,"month":5,"date":1,"utc":true},{"year":2023,"month":7,"date":1,"utc":true},{"year":2023,"month":8,"date":31,"utc":true},{"year":2023,"month":10,"date":31,"utc":true},{"year":2024,"month":1,"date":1,"utc":true},{"year":2024,"month":3,"date":2,"utc":true},{"year":2024,"month":4,"date":1,"utc":true}]}},
    "y":{"field":"v","type":"quantitative","scale":{"domain":[-31700,666000],"nice":false,"zero":false},
     "axis":{"orient":"right","grid":true,"gridWidth":0.55,"labels":false,"ticks":false,"title":null,"values":[100000,300000,500000]}}}},
  {"transform":[{"filter":"datum.s != 'Y'"}],
   "mark":{"type":"line","strokeWidth":1.6},
   "encoding":{
    "x":{"field":"d","type":"temporal","scale":{"type":"utc","nice":false,"domain":[{"year":2020,"month":12,"date":6,"hours":10,"utc":true},{"year":2024,"month":5,"date":7,"hours":12,"utc":true}]},
     "axis":{"grid":true,"format":"%b\u2212%y","title":"Months","titlePadding":2,"values":[{"year":2021,"month":2,"date":1,"utc":true},{"year":2021,"month":4,"date":1,"utc":true},{"year":2021,"month":6,"date":1,"utc":true},{"year":2021,"month":8,"date":1,"utc":true},{"year":2021,"month":10,"date":1,"utc":true},{"year":2021,"month":12,"date":1,"utc":true},{"year":2022,"month":2,"date":1,"utc":true},{"year":2022,"month":4,"date":1,"utc":true},{"year":2022,"month":6,"date":1,"utc":true},{"year":2022,"month":8,"date":1,"utc":true},{"year":2022,"month":10,"date":1,"utc":true},{"year":2022,"month":12,"date":1,"utc":true},{"year":2023,"month":2,"date":1,"utc":true},{"year":2023,"month":4,"date":1,"utc":true},{"year":2023,"month":6,"date":1,"utc":true},{"year":2023,"month":8,"date":1,"utc":true},{"year":2023,"month":10,"date":1,"utc":true},{"year":2023,"month":12,"date":1,"utc":true},{"year":2024,"month":2,"date":1,"utc":true}]}},
    "y":{"field":"v","type":"quantitative","scale":{"domain":[-31700,666000],"nice":false,"zero":false},
     "axis":{"grid":true,"values":[0,200000,400000,600000],"labelExpr":"datum.value == 0 ? '0e+00' : format(datum.value / 1e5, 'd') + 'e+05'","title":null}},
    "color":{"field":"s","type":"nominal","scale":{"domain":["A","C","D","del","G","H","N","P","S","V","Y"],"range":["#F0766D","#D68E1A","#A89F00","#67AF1C","#33B552","#33BEA2","#2FB6D8","#2AA2F5","#AE86F7","#E568E3","#F65CAE"]},
     "legend":{"title":"spike_mut","orient":"none","legendX":1460,"legendY":124,"titleFontSize":17,"titleFontWeight":"normal","titleColor":"#000000","titlePadding":8,"labelFontSize":14.3,"labelColor":"#000000","labelExpr":"'Spike_G339' + datum.label","symbolType":"M-1,0L1,0M-0.3,0A0.3,0.3 0 1,0 0.3,0A0.3,0.3 0 1,0 -0.3,0","symbolSize":441,"symbolStrokeWidth":1.6,"symbolOpacity":1,"rowPadding":8,"labelOffset":13,"encode":{"symbols":{"update":{"fill":{"scale":"color","field":"value"},"stroke":{"scale":"color","field":"value"}}}}}}}},
  {"transform":[{"filter":"datum.s != 'Y'"}],
   "mark":{"type":"point","filled":true,"size":36,"opacity":1},
   "encoding":{
    "x":{"field":"d","type":"temporal","axis":null},
    "y":{"field":"v","type":"quantitative","axis":null},
    "color":{"field":"s","type":"nominal","scale":{"domain":["A","C","D","del","G","H","N","P","S","V","Y"],"range":["#F0766D","#D68E1A","#A89F00","#67AF1C","#33B552","#33BEA2","#2FB6D8","#2AA2F5","#AE86F7","#E568E3","#F65CAE"]},
     "legend":{"title":"spike_mut","orient":"none","legendX":1460,"legendY":124,"titleFontSize":17,"titleFontWeight":"normal","titleColor":"#000000","titlePadding":8,"labelFontSize":14.3,"labelColor":"#000000","labelExpr":"'Spike_G339' + datum.label","symbolType":"M-1,0L1,0M-0.3,0A0.3,0.3 0 1,0 0.3,0A0.3,0.3 0 1,0 -0.3,0","symbolSize":441,"symbolStrokeWidth":1.6,"symbolOpacity":1,"rowPadding":8,"labelOffset":13,"encode":{"symbols":{"update":{"fill":{"scale":"color","field":"value"},"stroke":{"scale":"color","field":"value"}}}}}}}},
  {"transform":[{"filter":"datum.s == 'Y'"}],
   "mark":{"type":"line","strokeWidth":6.5,"strokeCap":"round"},
   "encoding":{
    "x":{"field":"d","type":"temporal","axis":null},
    "y":{"field":"v","type":"quantitative","axis":null},
    "color":{"field":"s","type":"nominal","scale":{"domain":["A","C","D","del","G","H","N","P","S","V","Y"],"range":["#F0766D","#D68E1A","#A89F00","#67AF1C","#33B552","#33BEA2","#2FB6D8","#2AA2F5","#AE86F7","#E568E3","#F65CAE"]},
     "legend":{"title":"spike_mut","orient":"none","legendX":1460,"legendY":124,"titleFontSize":17,"titleFontWeight":"normal","titleColor":"#000000","titlePadding":8,"labelFontSize":14.3,"labelColor":"#000000","labelExpr":"'Spike_G339' + datum.label","symbolType":"M-1,0L1,0M-0.3,0A0.3,0.3 0 1,0 0.3,0A0.3,0.3 0 1,0 -0.3,0","symbolSize":441,"symbolStrokeWidth":1.6,"symbolOpacity":1,"rowPadding":8,"labelOffset":13,"encode":{"symbols":{"update":{"fill":{"scale":"color","field":"value"},"stroke":{"scale":"color","field":"value"}}}}}}}}
 ],
 "resolve":{"axis":{"x":"independent","y":"independent"}}
},
{"width":26,"height":278,"view":{"fill":"#D9D9D9","stroke":null},"data":{"values":[{"lab":"freq"}]},"mark":{"type":"text","angle":90,"fontSize":13.7,"color":"#1A1A1A"},"encoding":{"text":{"field":"lab","type":"nominal"}}}
],
"columns":2,
"spacing":{"row":9,"column":0},
"bounds":"flush",
"resolve":{"scale":{"x":"independent","y":"independent","color":"shared"}},
"config":{
 "font":"Liberation Sans",
 "view":{"fill":"#EBEBEB","stroke":null},
 "axis":{"domain":false,"gridColor":"#FFFFFF","gridWidth":1.1,"tickColor":"#333333","tickWidth":1.1,"tickSize":4.3,"labelColor":"#4D4D4D","labelFontSize":13.7,"labelPadding":3.4,"labelFlush":false,"labelOverlap":false,"labelBound":false,"titleColor":"#000000","titleFontSize":17,"titleFontWeight":"normal"}
}
}
